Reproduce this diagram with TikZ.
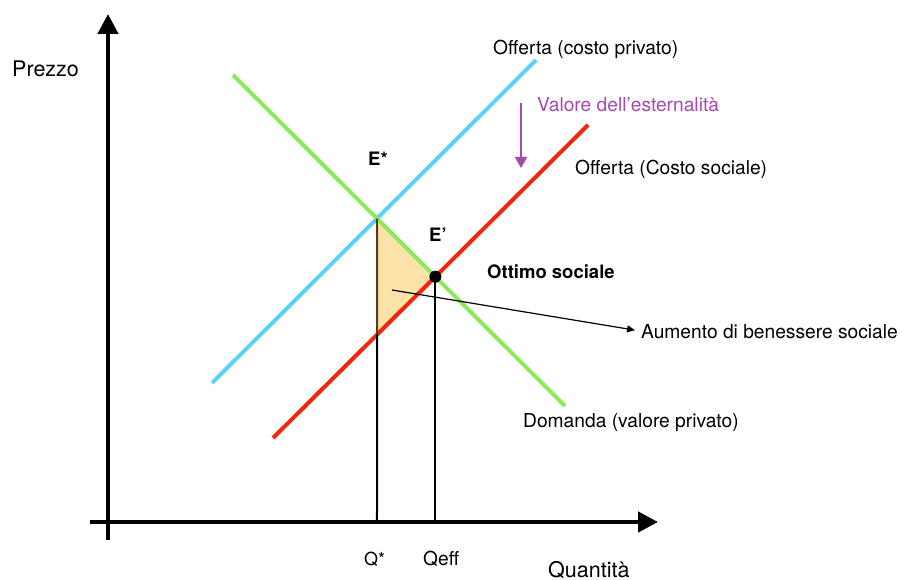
\documentclass[tikz,border=0pt]{standalone}
\usepackage{fontspec}
\setmainfont{TeX Gyre Heros}
\usetikzlibrary{arrows.meta}
\definecolor{cblue}{RGB}{94,209,247}
\definecolor{cgreen}{RGB}{141,233,90}
\definecolor{cred}{RGB}{242,38,12}
\definecolor{cpurple}{RGB}{165,72,176}
\definecolor{cfill}{RGB}{251,227,167}
\definecolor{cbrown}{RGB}{90,58,16}
\begin{document}
\begin{tikzpicture}[x=1pt,y=-1pt,
  lbl/.style={anchor=base west, inner sep=0pt, font=\fontsize{19.2}{23}\selectfont},
  axlbl/.style={anchor=base west, inner sep=0pt, font=\fontsize{21.5}{26}\selectfont},
  blbl/.style={anchor=base west, inner sep=0pt, font=\fontsize{18.5}{22}\selectfont\bfseries},
  axis/.style={line width=4.5pt, -{Triangle[length=20pt,width=20pt]}},
  curve/.style={line width=4pt},
  guide/.style={line width=2pt}]
\useasboundingbox (0,0) rectangle (902,580);
% geometry
\coordinate (b1) at (212,383); \coordinate (b2) at (536,60);
\coordinate (g1) at (233,75);  \coordinate (g2) at (565,406);
\coordinate (r1) at (273,438); \coordinate (r2) at (588,125);
\coordinate (O) at (108,522);
\coordinate (ys) at (108,540); \coordinate (ye) at (108,14);
\coordinate (xs) at (90,522);  \coordinate (xe) at (658,522);
\coordinate (Es) at (intersection of b1--b2 and g1--g2);
\coordinate (Ep) at (intersection of r1--r2 and g1--g2);
\coordinate (Qs) at (Es |- O);
\coordinate (Qe) at (Ep |- O);
\coordinate (T) at (intersection of r1--r2 and Es--Qs);
% welfare triangle
\fill[cfill] (Es) -- (Ep) -- (T) -- cycle;
% axes
\draw[axis] (ys) -- (ye);
\draw[axis] (xs) -- (xe);
% curves
\draw[curve, cblue] (b1) -- (b2);
\draw[curve, cgreen] (g1) -- (g2);
\draw[curve, cred] (r1) -- (r2);
% guides
\draw[guide, cbrown] (Es) -- (T);
\draw[guide] (T) -- (Qs);
\draw[guide] (Ep) -- (Qe);
\fill (Ep) circle (6pt);
% labels
\node[axlbl] (prezzo) at (12,77) {Prezzo};
\node[axlbl] (quant) at (548,577) {Quantità};
\node[lbl] (offp) at (493,55) {Offerta (costo privato)};
\node[lbl, text=cpurple] (vest) at (537,112) {Valore dell’esternalità};
\node[lbl] (offs) at (575,175) {Offerta (Costo sociale)};
\node[lbl] (dom) at (523,427) {Domanda (valore privato)};
\node[lbl] (aum) at (641,338) {Aumento di benessere sociale};
\node[blbl] (estar) at (368,166) {E*};
\node[blbl] (eprime) at (429,241) {E’};
\node[blbl] (ottimo) at (487,278) {Ottimo sociale};
\node[lbl, font=\fontsize{18}{22}\selectfont] (qs) at (364,565) {Q*};
\node[lbl] (qe) at (423,565) {Qeff};
% arrows
\coordinate (a1) at (392,290);
\draw[line width=1.2pt, -{Triangle[length=8pt,width=7pt]}, shorten >=6pt] (a1) -- (aum.west);
\coordinate (v1) at (521,103); \coordinate (v2) at (521,168);
\draw[cpurple, line width=2pt, -{Triangle[length=11pt,width=12pt]}] (v1) -- (v2);
\end{tikzpicture}
\end{document}
